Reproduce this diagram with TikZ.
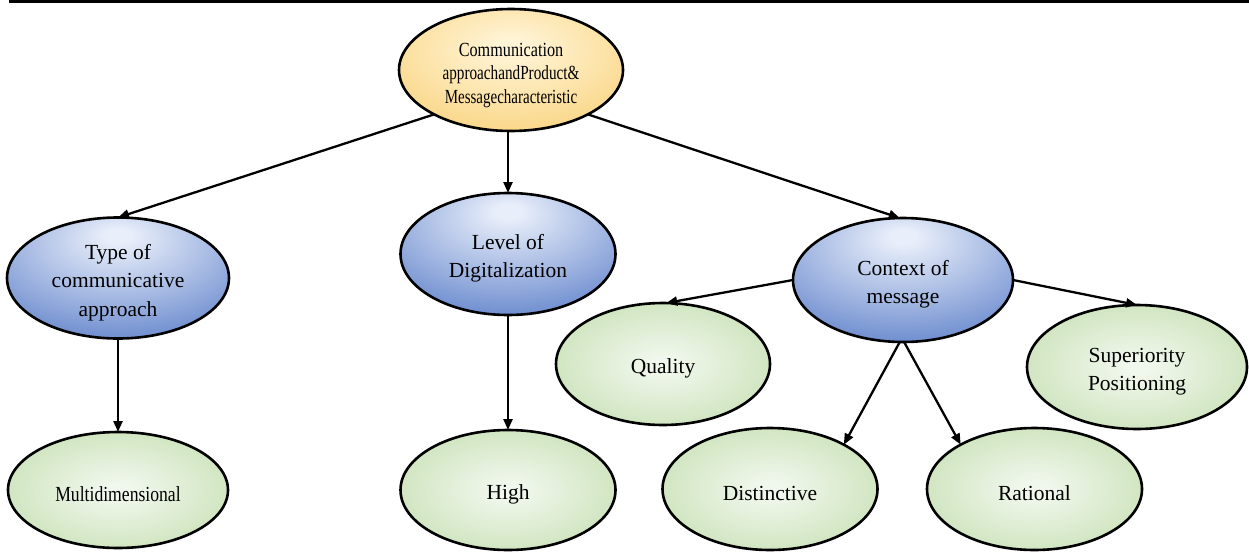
\documentclass[tikz,border=0pt]{standalone}
\usepackage{fontspec}
\setmainfont{Liberation Serif}
\usetikzlibrary{shapes.geometric,arrows.meta}
\definecolor{blueIn}{RGB}{232,238,250}
\definecolor{blueOut}{RGB}{78,116,196}
\definecolor{greenIn}{RGB}{240,247,236}
\definecolor{greenOut}{RGB}{178,212,150}
\definecolor{yellowIn}{RGB}{255,244,214}
\definecolor{yellowOut}{RGB}{248,200,96}
\pgfdeclareradialshading{blueshade}{\pgfpoint{0bp}{18bp}}{color(0bp)=(blueIn); color(3bp)=(blueIn); color(46bp)=(blueOut); color(100bp)=(blueOut)}
\pgfdeclareradialshading{greenshade}{\pgfpoint{0bp}{0bp}}{color(0bp)=(greenIn); color(3bp)=(greenIn); color(48bp)=(greenOut); color(100bp)=(greenOut)}
\pgfdeclareradialshading{yellowshade}{\pgfpoint{0bp}{10bp}}{color(0bp)=(yellowIn); color(3bp)=(yellowIn); color(48bp)=(yellowOut); color(100bp)=(yellowOut)}
\newcommand{\upx}[1]{\rule{0pt}{#1}}
\tikzset{
  ell/.style={ellipse, draw=black, line width=2.6pt, inner sep=0pt, outer sep=0pt,
    minimum width=216pt, minimum height=122pt, align=center,
    font=\fontsize{21.5}{28.5}\selectfont},
  bluenode/.style={ell, shade, shading=blueshade},
  greennode/.style={ell, shade, shading=greenshade},
  yellownode/.style={ell, shade, shading=yellowshade},
  conn/.style={line width=2.3pt, -{Triangle[length=11pt,width=9pt]}},
}
\newcommand{\sqz}[2]{\scalebox{#1}[1]{#2}}
\begin{document}
\begin{tikzpicture}[x=1pt,y=-1pt]
\useasboundingbox (0,0) rectangle (1249,551);
\draw[line width=2.6pt] (9,1.3) -- (1249,1.3);

\node[yellownode, minimum width=224pt, minimum height=122pt,
      font=\fontsize{20}{23.5}\selectfont] (top) at (511,70)
  {\upx{24pt}\sqz{0.81}{Communication}\\\sqz{0.76}{approachandProduct\&}\\\sqz{0.75}{Messagecharacteristic}};

\node[bluenode, minimum width=222pt, minimum height=118pt] (type) at (118,278)
  {\upx{24pt}Type of\\communicative\\approach};
\node[bluenode, minimum width=215pt] (level) at (508,254)
  {\upx{24pt}Level of\\Digitalization};
\node[bluenode, minimum width=220pt, minimum height=124pt] (context) at (903,280)
  {\upx{24pt}Context of\\message};

\node[greennode, minimum width=214pt] (quality) at (663,364) {\upx{24pt}Quality};
\node[greennode, minimum width=220pt, minimum height=124pt] (sup) at (1137,367)
  {\upx{24pt}Superiority\\Positioning};
\node[greennode, minimum width=220pt, minimum height=116pt] (multi) at (118,490)
  {\upx{24pt}\sqz{0.82}{Multidimensional}};
\node[greennode, minimum width=215pt, minimum height=120pt] (high) at (508,490) {\upx{24pt}High};
\node[greennode, minimum width=215pt] (dist) at (770,489) {\upx{24pt}Distinctive};
\node[greennode, minimum width=215pt] (rat) at (1034.5,489) {\upx{24pt}Rational};

\draw[conn] (top.210) -- (type.north);
\draw[conn] (level.north |- top.south) -- (level.north);
\draw[conn] (top.330) -- (context.93);
\draw[conn] (type.south) -- (multi.north);
\draw[conn] (level.south) -- (high.north);
\draw[conn] (context.west) -- (quality.87);
\draw[conn] (context.east) -- (sup.north);
\draw[conn] (context.267) -- (dist.31);
\draw[conn] (context.271) -- (rat.149);
\end{tikzpicture}
\end{document}
